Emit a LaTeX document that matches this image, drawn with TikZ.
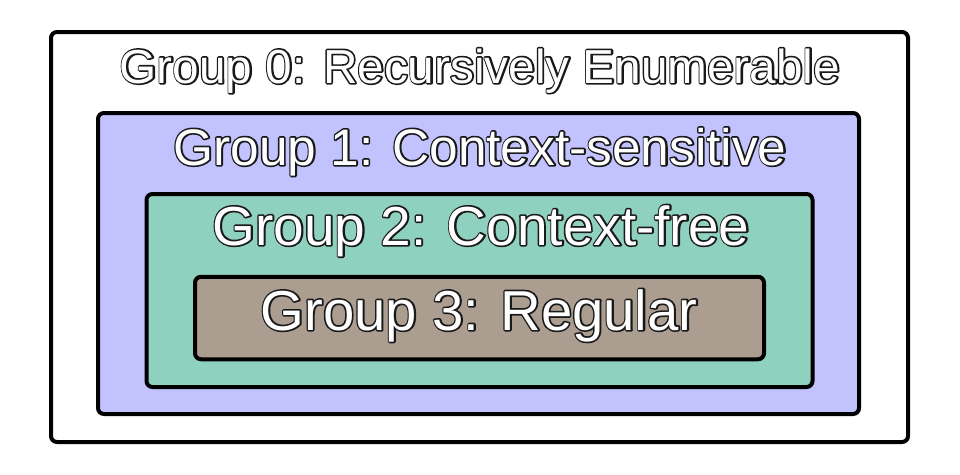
\documentclass[tikz,border=0pt]{standalone}
\usepackage{fontspec}
\setmainfont{Liberation Sans}
\newcommand{\outlinedtext}[1]{\rlap{\special{pdf:literal direct 1 Tr 0.1 G 3.2 w 1 j}#1\special{pdf:literal direct 0 Tr 0 G}}\special{pdf:literal direct 1 g}#1\special{pdf:literal direct 0 g}}
\definecolor{csblue}{HTML}{C2C2FF}
\definecolor{csteal}{HTML}{8FD1BF}
\definecolor{csbrown}{HTML}{AC9D91}
\begin{document}
\begin{tikzpicture}[x=1pt,y=-1pt,
  box/.style={draw=black,line width=4pt,rounded corners=6pt,inner sep=0pt,outer sep=0pt},
  lab/.style={anchor=base,inner sep=0pt}]
\useasboundingbox (0,0) rectangle (960,474);
\node[box,fill=white,minimum width=857pt,minimum height=410pt] (g0) at (479.5,237) {};
\node[box,fill=csblue,minimum width=761pt,minimum height=301pt] (g1) at (478.5,263.5) {};
\node[box,fill=csteal,minimum width=666pt,minimum height=193pt] (g2) at (479.5,290.5) {};
\node[box,fill=csbrown,minimum width=569pt,minimum height=82.5pt] (g3) at (479.5,318) {};
\node[lab,font=\fontsize{47.7}{50}\selectfont] (t0) at (480,83) {\outlinedtext{Group 0: Recursively Enumerable}};
\node[lab,font=\fontsize{51.4}{54}\selectfont] (t1) at (480,165) {\outlinedtext{Group 1: Context-sensitive}};
\node[lab,font=\fontsize{55}{58}\selectfont] (t2) at (481,245) {\outlinedtext{Group 2: Context-free}};
\node[lab,font=\fontsize{56.3}{59}\selectfont] (t3) at (479,330) {\outlinedtext{Group 3: Regular}};
\end{tikzpicture}
\end{document}
